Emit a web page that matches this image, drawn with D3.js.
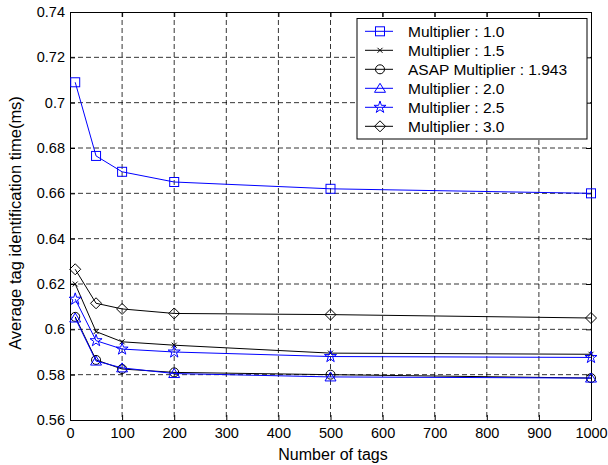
<!DOCTYPE html>
<html>
<head>
<meta charset="utf-8">
<script src="https://cdn.jsdelivr.net/npm/d3@7"></script>
<style>
  body { margin: 0; background: #fff; }
  text { font-family: "Liberation Sans", Arial, sans-serif; }
</style>
</head>
<body>
<div id="chart-area"></div>
<script>
var tags = [10, 50, 100, 200, 500, 1000];
var seriesNames = ["Multiplier : 1.0", "Multiplier : 1.5", "ASAP Multiplier : 1.943",
  "Multiplier : 2.0", "Multiplier : 2.5", "Multiplier : 3.0"];
var mult10 = [0.709, 0.6765, 0.6695, 0.665, 0.662, 0.660];
var mult15 = [0.620, 0.599, 0.5945, 0.593, 0.5895, 0.589];
var multAsap = [0.6055, 0.5865, 0.5825, 0.581, 0.580, 0.5785];
var mult20 = [0.605, 0.586, 0.583, 0.5805, 0.579, 0.5785];
var mult25 = [0.6133, 0.595, 0.5913, 0.590, 0.588, 0.5876];
var mult30 = [0.6265, 0.6115, 0.609, 0.607, 0.6065, 0.605];
var xTicks = [0, 100, 200, 300, 400, 500, 600, 700, 800, 900, 1000];
var yTicks = [0.56, 0.58, 0.6, 0.62, 0.64, 0.66, 0.68, 0.7, 0.72, 0.74];

var series = [
  { name: seriesNames[0], values: mult10, color: "#0000ff", marker: "square" },
  { name: seriesNames[1], values: mult15, color: "#000000", marker: "x" },
  { name: seriesNames[2], values: multAsap, color: "#000000", marker: "circle" },
  { name: seriesNames[3], values: mult20, color: "#0000ff", marker: "triangle" },
  { name: seriesNames[4], values: mult25, color: "#0000ff", marker: "star" },
  { name: seriesNames[5], values: mult30, color: "#000000", marker: "diamond" }
];

var margin = { left: 70, right: 17, top: 12, bottom: 45 };
var width = 608 - margin.left - margin.right;
var height = 465 - margin.top - margin.bottom;

var svg = d3.select("#chart-area").append("svg")
  .attr("width", 608).attr("height", 465)
  .append("g")
  .attr("transform", "translate(" + margin.left + "," + margin.top + ")");

var x = d3.scaleLinear().domain([0, 1000]).range([0, width]);
var y = d3.scaleLinear().domain([0.56, 0.74]).range([height, 0]);

// grid
svg.append("g").selectAll("line").data(xTicks.slice(1, -1)).enter().append("line")
  .attr("x1", d => x(d)).attr("x2", d => x(d)).attr("y1", 0).attr("y2", height)
  .attr("stroke", "#000").attr("stroke-width", 0.8).attr("stroke-dasharray", "5,3");
svg.append("g").selectAll("line").data(yTicks.slice(1, -1)).enter().append("line")
  .attr("y1", d => y(d)).attr("y2", d => y(d)).attr("x1", 0).attr("x2", width)
  .attr("stroke", "#000").attr("stroke-width", 0.8).attr("stroke-dasharray", "5,3");

// axes
var fmt = d3.format(".2~f");
svg.append("g").attr("transform", "translate(0," + height + ")")
  .call(d3.axisBottom(x).tickValues(xTicks).tickFormat(d3.format("d"))
    .tickSizeInner(-5).tickSizeOuter(0).tickPadding(8));
svg.append("g")
  .call(d3.axisLeft(y).tickValues(yTicks).tickFormat(fmt)
    .tickSizeInner(-5).tickSizeOuter(0).tickPadding(5));
svg.append("g").call(d3.axisTop(x).tickValues(xTicks).tickSizeInner(-5).tickSizeOuter(0).tickFormat(""));
svg.append("g").attr("transform", "translate(" + width + ",0)")
  .call(d3.axisRight(y).tickValues(yTicks).tickSizeInner(-5).tickSizeOuter(0).tickFormat(""));
svg.selectAll(".domain").attr("stroke", "#000");
svg.selectAll(".tick text").attr("font-size", "14.5px").attr("fill", "#000");

// axis labels
svg.append("text").attr("x", 263).attr("y", height + 40)
  .attr("text-anchor", "middle").attr("font-size", "16px").text("Number of tags");
svg.append("text").attr("transform", "rotate(-90)")
  .attr("x", -211).attr("y", -49)
  .attr("text-anchor", "middle").attr("font-size", "16.5px")
  .text("Average tag identification time(ms)");

function drawMarker(g, type, color) {
  if (type === "square") {
    g.append("rect").attr("x", -4.5).attr("y", -4.5).attr("width", 9).attr("height", 9)
      .attr("fill", "none").attr("stroke", color);
  } else if (type === "x") {
    g.append("path").attr("d", "M-2.5,-2.5L2.5,2.5M-2.5,2.5L2.5,-2.5")
      .attr("fill", "none").attr("stroke", color);
  } else if (type === "circle") {
    g.append("circle").attr("r", 4.5).attr("fill", "none").attr("stroke", color);
  } else if (type === "triangle") {
    g.append("path").attr("d", "M0,-5L5.5,4L-5.5,4Z").attr("fill", "none").attr("stroke", color);
  } else if (type === "star") {
    g.append("path").attr("d", d3.symbol().type(d3.symbolStar).size(45)())
      .attr("fill", "none").attr("stroke", color);
  } else if (type === "diamond") {
    g.append("path").attr("d", "M0,-5.5L5.5,0L0,5.5L-5.5,0Z").attr("fill", "none").attr("stroke", color);
  }
}

var line = d3.line().x((d, i) => x(tags[i])).y(d => y(d));

series.forEach(function (s) {
  svg.append("path").datum(s.values)
    .attr("fill", "none").attr("stroke", s.color).attr("stroke-width", 1)
    .attr("d", line);
  s.values.forEach(function (v, i) {
    var g = svg.append("g").attr("transform", "translate(" + x(tags[i]) + "," + y(v) + ")");
    drawMarker(g, s.marker, s.color);
  });
});

// legend
var legend = svg.append("g").attr("transform", "translate(" + (357 - margin.left) + "," + (18.5 - margin.top) + ")");
legend.append("rect").attr("width", 230).attr("height", 120.5)
  .attr("fill", "#fff").attr("stroke", "#000");
series.forEach(function (s, i) {
  var ly = 12.8 + i * 19;
  legend.append("line").attr("x1", 8).attr("x2", 36).attr("y1", ly).attr("y2", ly)
    .attr("stroke", s.color);
  var g = legend.append("g").attr("transform", "translate(23," + ly + ")");
  drawMarker(g, s.marker, s.color);
  legend.append("text").attr("x", 51).attr("y", ly + 5.5)
    .attr("font-size", "15.5px").text(s.name);
});
</script>
</body>
</html>
